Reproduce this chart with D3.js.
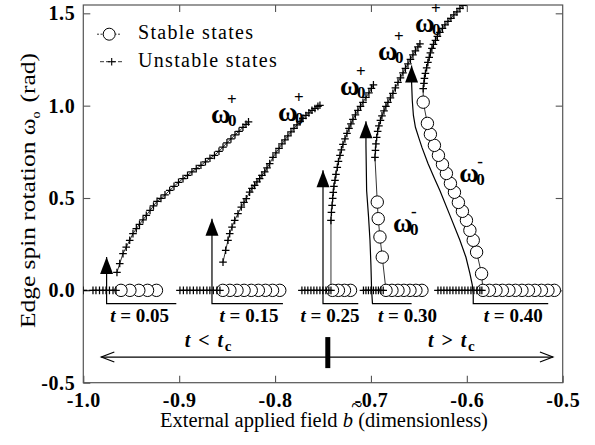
<!DOCTYPE html>
<html>
<head>
<meta charset="utf-8">
<script src="https://cdn.jsdelivr.net/npm/d3@7"></script>
<style>
body { margin: 0; background: #fff; }
svg text { font-family: "Liberation Serif", "Times New Roman", serif; fill: #000; }
</style>
</head>
<body>
<svg id="chart" width="595" height="445"></svg>
<script>
// ---- data (b = external field, w = edge spin rotation) ----
const tLabels = ["0.05", "0.15", "0.25", "0.30", "0.40"];
const xTicks = [-1.0, -0.9, -0.8, -0.7, -0.6, -0.5];
const yTicks = [-0.5, 0.0, 0.5, 1.0, 1.5];

// unstable states lying on w = 0
const unstableZeroB = [
  [-1.0, -0.9899, -0.9868, -0.9831, -0.9795, -0.9763, -0.9727, -0.9690, -0.9659],
  [-0.8992, -0.8956, -0.8919, -0.8888, -0.8852, -0.8815, -0.8784, -0.8747, -0.8711, -0.8680, -0.8644, -0.8607, -0.8575],
  [-0.7720, -0.7689, -0.7658, -0.7626, -0.7595, -0.7564, -0.7532, -0.7501, -0.7470, -0.7439, -0.7417],
  [-0.7078, -0.7052, -0.7026, -0.7000, -0.6974, -0.6948, -0.6922, -0.6896, -0.6872],
  [-0.6301, -0.6270, -0.6239, -0.6207, -0.6176, -0.6145, -0.6113, -0.6082, -0.6051, -0.6020, -0.5988, -0.5957, -0.5926, -0.5895, -0.5864, -0.5843]
];

// unstable w0+ branch
const plusB = [
  [-0.9649, -0.9620, -0.9586, -0.9552, -0.9516, -0.9482, -0.9447, -0.9414, -0.9377, -0.9343, -0.9304, -0.9268, -0.9231, -0.9190, -0.9148, -0.9099, -0.9054, -0.9007, -0.8960, -0.8913, -0.8867, -0.8822, -0.8773, -0.8726, -0.8679, -0.8632, -0.8585, -0.8543, -0.8502, -0.8460, -0.8418, -0.8376, -0.8335, -0.8303, -0.8277],
  [-0.8543, -0.8515, -0.8491, -0.8473, -0.8449, -0.8421, -0.8387, -0.8352, -0.8324, -0.8300, -0.8265, -0.8241, -0.8213, -0.8189, -0.8161, -0.8137, -0.8108, -0.8084, -0.8056, -0.8022, -0.7991, -0.7959, -0.7928, -0.7897, -0.7866, -0.7834, -0.7803, -0.7771, -0.7740, -0.7709, -0.7678, -0.7647, -0.7615, -0.7584, -0.7553, -0.7532],
  [-0.7417, -0.7412, -0.7405, -0.7399, -0.7393, -0.7386, -0.7375, -0.7365, -0.7351, -0.7339, -0.7323, -0.7308, -0.7292, -0.7271, -0.7250, -0.7229, -0.7209, -0.7188, -0.7162, -0.7136, -0.7109, -0.7083, -0.7052, -0.7021, -0.6995, -0.6974],
  [-0.6958, -0.6953, -0.6948, -0.6940, -0.6930, -0.6917, -0.6901, -0.6885, -0.6864, -0.6844, -0.6823, -0.6797, -0.6771, -0.6745, -0.6718, -0.6692, -0.6666, -0.6640, -0.6614, -0.6588, -0.6562, -0.6536, -0.6510, -0.6489],
  [-0.6455, -0.6447, -0.6442, -0.6432, -0.6419, -0.6406, -0.6392, -0.6380, -0.6364, -0.6348, -0.6327, -0.6307, -0.6281, -0.6254, -0.6228, -0.6197, -0.6166, -0.6135, -0.6103, -0.6072, -0.6041, -0.6009]
];
const plusW = [
  [0.097, 0.145, 0.199, 0.234, 0.271, 0.307, 0.334, 0.357, 0.382, 0.406, 0.433, 0.457, 0.482, 0.498, 0.517, 0.541, 0.563, 0.585, 0.605, 0.623, 0.642, 0.659, 0.677, 0.696, 0.715, 0.731, 0.753, 0.776, 0.799, 0.820, 0.842, 0.861, 0.883, 0.899, 0.912],
  [0.153, 0.217, 0.271, 0.307, 0.343, 0.379, 0.415, 0.451, 0.476, 0.496, 0.532, 0.552, 0.568, 0.587, 0.605, 0.623, 0.641, 0.663, 0.686, 0.720, 0.744, 0.769, 0.793, 0.815, 0.836, 0.858, 0.877, 0.896, 0.915, 0.931, 0.947, 0.961, 0.975, 0.985, 0.996, 1.002],
  [0.379, 0.422, 0.460, 0.498, 0.531, 0.563, 0.596, 0.628, 0.666, 0.698, 0.731, 0.761, 0.790, 0.820, 0.850, 0.877, 0.901, 0.926, 0.950, 0.975, 0.996, 1.018, 1.045, 1.069, 1.094, 1.113],
  [0.720, 0.758, 0.793, 0.828, 0.861, 0.891, 0.920, 0.945, 0.972, 0.996, 1.018, 1.042, 1.067, 1.096, 1.126, 1.151, 1.178, 1.202, 1.226, 1.251, 1.275, 1.297, 1.318, 1.335],
  [1.092, 1.121, 1.148, 1.175, 1.205, 1.234, 1.262, 1.286, 1.310, 1.332, 1.354, 1.375, 1.397, 1.419, 1.437, 1.456, 1.473, 1.492, 1.508, 1.527, 1.543, 1.559]
];
// does the w0+ branch start from the w = 0 line?
const plusFromZero = [false, false, true, false, false];

// stable states on w = 0 (listed from high field to low field)
const stableZeroB = [
  [-0.9237, -0.9330, -0.9421, -0.9514, -0.9607],
  [-0.7951, -0.8026, -0.8100, -0.8174, -0.8248, -0.8323, -0.8397, -0.8471, -0.8545],
  [-0.7213, -0.7276, -0.7339, -0.7401],
  [-0.6468, -0.6531, -0.6593, -0.6656, -0.6718, -0.6781, -0.6843],
  [-0.5087, -0.5154, -0.5222, -0.5290, -0.5357, -0.5425, -0.5493, -0.5561, -0.5629, -0.5696, -0.5764, -0.5832]
];
// stable w0- branch
const minusB = [[], [], [],
  [-0.6882, -0.6906, -0.6924, -0.6934],
  [-0.5846, -0.5898, -0.5933, -0.5968, -0.6004, -0.6046, -0.6088, -0.6129, -0.6171, -0.6213, -0.6254, -0.6296, -0.6338, -0.6380, -0.6411, -0.6455]
];
const minusW = [[], [], [],
  [0.180, 0.289, 0.388, 0.478],
  [0.090, 0.207, 0.271, 0.325, 0.379, 0.428, 0.476, 0.531, 0.579, 0.633, 0.682, 0.731, 0.785, 0.845, 0.904, 1.019]
];

// bracket / arrow guides for each t
const guideB = [
  [-0.9030, -0.9757, -0.9757],
  [-0.7918, -0.8658, -0.8658],
  [-0.7132, -0.7500, -0.7500],
  [-0.6576, -0.6984, -0.6993, -0.7000, -0.7010, -0.7026, -0.7045, -0.7052, -0.7052],
  [-0.5151, -0.5933, -0.5933, -0.5942, -0.5968, -0.6009, -0.6072, -0.6176, -0.6281, -0.6343, -0.6406, -0.6468, -0.6499, -0.6536, -0.6557, -0.6569, -0.6576, -0.6576]
];
const guideW = [
  [-0.072, -0.072, 0.180],
  [-0.072, -0.072, 0.388],
  [-0.072, -0.072, 0.650],
  [-0.072, -0.072, 0.000, 0.135, 0.271, 0.406, 0.541, 0.785, 0.915],
  [-0.072, -0.072, -0.027, 0.027, 0.092, 0.179, 0.271, 0.406, 0.541, 0.612, 0.688, 0.774, 0.823, 0.883, 0.947, 1.029, 1.126, 1.218]
];
const tLabelB = [-0.9413, -0.8272, -0.7427, -0.6619, -0.5516];
const tLabelW = -0.172;

// w0 branch labels
const omegaB = [-0.8668, -0.7970, -0.7323, -0.6927, -0.6541, -0.6771, -0.6080];
const omegaW = [0.904, 0.915, 1.056, 1.245, 1.397, 0.314, 0.585];
const omegaSign = ["+", "+", "+", "+", "+", "-", "-"];

// t < tc / t > tc regime arrow
const spanB = [-0.9812, -0.5102];
const spanW = -0.361;
const criticalB = -0.745;
const criticalW = [-0.253, -0.421];
const regimeB = [-0.8943, -0.6406];
const regimeSym = ["<", ">"];
const regimeW = -0.307;

// ---- drawing ----
const svg = d3.select("#chart");
const x = d3.scaleLinear().domain([-1.0, -0.5]).range([83.3, 562.7]);
const y = d3.scaleLinear().domain([-0.5, 1.545]).range([382.7, 5]);
const line = d3.line().x(d => x(d[0])).y(d => y(d[1]));
const plusPath = "M-3.8,0H3.8M0,-3.8V3.8";

svg.append("defs").append("clipPath").attr("id", "plot")
  .append("rect")
  .attr("x", x(-1.0)).attr("y", y(1.545))
  .attr("width", x(-0.5) - x(-1.0)).attr("height", y(-0.5) - y(1.545));

// axes
const fmt = d => d.toFixed(1);
function styleAxis(g) {
  g.select(".domain").remove();
  g.selectAll(".tick line").attr("stroke", "#555").attr("stroke-width", 1.1);
  g.selectAll(".tick text").attr("font-size", 20).attr("font-weight", "bold")
    .attr("letter-spacing", 0.6);
}
svg.append("g").attr("transform", `translate(0,${y(-0.5)})`)
  .call(d3.axisBottom(x).tickValues(xTicks).tickFormat(fmt).tickSize(-7).tickPadding(10))
  .call(styleAxis);
svg.append("g").attr("transform", `translate(${x(-1.0)},0)`)
  .call(d3.axisLeft(y).tickValues(yTicks).tickFormat(fmt).tickSize(-7).tickPadding(8))
  .call(styleAxis);
svg.append("g").attr("transform", `translate(0,${y(1.545)})`)
  .call(d3.axisTop(x).tickValues(xTicks.slice(1, -1)).tickFormat("").tickSize(-7))
  .call(styleAxis);
svg.append("g").attr("transform", `translate(${x(-0.5)},0)`)
  .call(d3.axisRight(y).tickValues(yTicks.slice(1)).tickFormat("").tickSize(-7))
  .call(styleAxis);

svg.append("rect")
  .attr("x", x(-1.0)).attr("y", y(1.545))
  .attr("width", x(-0.5) - x(-1.0)).attr("height", y(-0.5) - y(1.545))
  .attr("fill", "none").attr("stroke", "#555").attr("stroke-width", 1.2);

// data series
const plot = svg.append("g").attr("clip-path", "url(#plot)");
const lineLayer = plot.append("g").attr("fill", "none").attr("stroke", "#000").attr("stroke-width", 0.8);
const circleLayer = plot.append("g");
const crossLayer = plot.append("g").attr("fill", "none").attr("stroke", "#000").attr("stroke-width", 1.25);

tLabels.forEach((t, i) => {
  const zeroU = unstableZeroB[i].map(b => [b, 0]);
  const plus = plusB[i].map((b, k) => [b, plusW[i][k]]);
  const stable = stableZeroB[i].map(b => [b, 0])
    .concat(minusB[i].map((b, k) => [b, minusW[i][k]]));

  let plusLine = plus;
  if (minusB[i].length) plusLine = [stable[stable.length - 1]].concat(plus);
  else if (plusFromZero[i]) plusLine = [zeroU[zeroU.length - 1]].concat(plus);

  lineLayer.append("path").attr("d", line(zeroU));
  lineLayer.append("path").attr("d", line(stable));
  lineLayer.append("path").attr("d", line(plusLine));

  circleLayer.selectAll(null).data(stable).enter().append("circle")
    .attr("cx", d => x(d[0])).attr("cy", d => y(d[1])).attr("r", 6.2)
    .attr("fill", "#fff").attr("stroke", "#000").attr("stroke-width", 1);

  crossLayer.selectAll(null).data(zeroU.concat(plus)).enter().append("path")
    .attr("d", plusPath)
    .attr("transform", d => `translate(${x(d[0])},${y(d[1])})`);
});

// brackets with arrows
const guides = svg.append("g");
tLabels.forEach((t, i) => {
  const pts = guideB[i].map((b, k) => [b, guideW[i][k]]);
  guides.append("path").attr("d", line(pts))
    .attr("fill", "none").attr("stroke", "#000").attr("stroke-width", 1.2);
  const tip = pts[pts.length - 1];
  const tx = x(tip[0]), ty = y(tip[1]);
  guides.append("path")
    .attr("d", `M${tx},${ty}L${tx - 6.5},${ty + 17}L${tx + 6.5},${ty + 17}Z`)
    .attr("fill", "#000");

  const lbl = guides.append("text")
    .attr("x", x(tLabelB[i])).attr("y", y(tLabelW))
    .attr("text-anchor", "middle").attr("font-size", 19).attr("font-weight", "bold");
  lbl.append("tspan").attr("font-style", "italic").text("t");
  lbl.append("tspan").text(" = " + t);
});

// branch labels
omegaB.forEach((b, i) => {
  const ox = x(b), oy = y(omegaW[i]);
  const g = svg.append("g").attr("font-weight", "bold");
  g.append("text").attr("x", ox).attr("y", oy).attr("font-size", 27).text("ω");
  g.append("text").attr("x", ox + 17).attr("y", oy + 3).attr("font-size", 17).text("0");
  g.append("text").attr("x", ox + (omegaSign[i] === "+" ? 16 : 18))
    .attr("y", oy - (omegaSign[i] === "+" ? 18 : 15))
    .attr("font-size", 17).text(omegaSign[i]);
});

// regime arrow
const ay = y(spanW), ax0 = x(spanB[0]), ax1 = x(spanB[1]);
const reg = svg.append("g").attr("fill", "none").attr("stroke", "#000").attr("stroke-width", 1.2);
reg.append("line").attr("x1", ax0).attr("x2", ax1).attr("y1", ay).attr("y2", ay);
reg.append("path").attr("d", `M${ax0 + 13},${ay - 5}L${ax0},${ay}L${ax0 + 13},${ay + 5}`);
reg.append("path").attr("d", `M${ax1 - 13},${ay - 5}L${ax1},${ay}L${ax1 - 13},${ay + 5}`);
svg.append("rect")
  .attr("x", x(criticalB) - 2.5).attr("y", y(criticalW[0]))
  .attr("width", 5).attr("height", y(criticalW[1]) - y(criticalW[0]))
  .attr("fill", "#000");
regimeB.forEach((b, i) => {
  const tx = svg.append("text").attr("x", x(b)).attr("y", y(regimeW))
    .attr("font-size", 20).attr("font-weight", "bold").attr("letter-spacing", 1.5);
  tx.append("tspan").attr("font-style", "italic").text("t");
  tx.append("tspan").text(" " + regimeSym[i] + " ");
  tx.append("tspan").attr("font-style", "italic").text("t");
  tx.append("tspan").attr("font-size", 15).attr("dy", 4).text("c");
});

// legend
const leg = svg.append("g");
leg.append("line").attr("x1", 97).attr("x2", 121).attr("y1", 34.2).attr("y2", 34.2)
  .attr("stroke", "#000").attr("stroke-width", 0.8).attr("stroke-dasharray", "2,1.5");
leg.append("circle").attr("cx", 109.2).attr("cy", 34.2).attr("r", 6)
  .attr("fill", "#fff").attr("stroke", "#000");
leg.append("line").attr("x1", 100).attr("x2", 123).attr("y1", 61.7).attr("y2", 61.7)
  .attr("stroke", "#000").attr("stroke-width", 0.8).attr("stroke-dasharray", "4,2");
leg.append("path").attr("d", plusPath).attr("transform", "translate(111.7,61.7)")
  .attr("fill", "none").attr("stroke", "#000").attr("stroke-width", 1.1);
leg.append("text").attr("x", 138).attr("y", 38.5).attr("font-size", 20)
  .attr("letter-spacing", 1.3).text("Stable states");
leg.append("text").attr("x", 138).attr("y", 66.7).attr("font-size", 20)
  .attr("letter-spacing", 1.3).text("Unstable states");

// axis titles (the tilde rides in the text run above the italic b)
const xfs = 20.5, bAdv = 0.5 * xfs, tildeAdv = 0.541 * xfs;
const tildeDx = -(bAdv + tildeAdv) / 2 + 9;
const xl = svg.append("text").attr("x", 324).attr("y", 427)
  .attr("text-anchor", "middle").attr("font-size", xfs);
xl.append("tspan").text("External applied field ");
xl.append("tspan").attr("font-style", "italic").text("b");
xl.append("tspan").attr("dx", tildeDx).attr("dy", -15).text("~");
xl.append("tspan").attr("dx", -(tildeDx + tildeAdv)).attr("dy", 15).text(" (dimensionless)");

const yl = svg.append("text").attr("transform", "translate(35,190.5) rotate(-90)")
  .attr("text-anchor", "middle").attr("font-size", 22)
  .attr("textLength", 275).attr("lengthAdjust", "spacingAndGlyphs");
yl.append("tspan").text("Edge spin rotation ω");
yl.append("tspan").attr("font-size", 12).attr("dy", 5).text("o");
yl.append("tspan").attr("dy", -5).attr("dx", 8).text("(rad)");
</script>
</body>
</html>
